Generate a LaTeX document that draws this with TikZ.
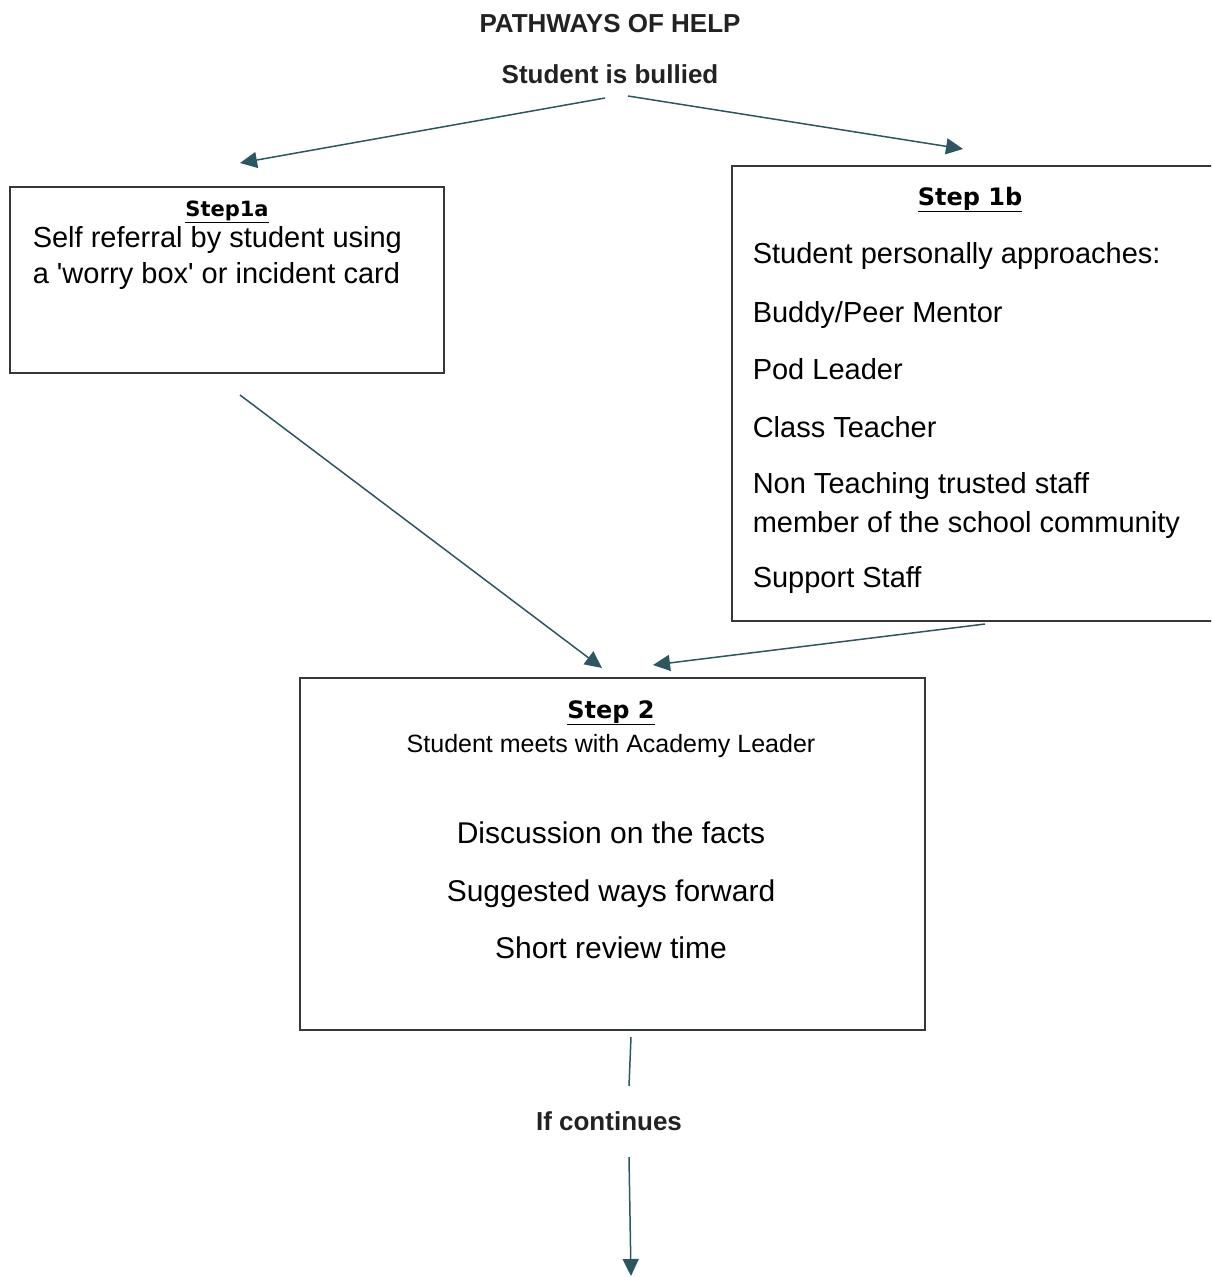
\documentclass[tikz,border=0pt]{standalone}
\usepackage{fontspec}
\setmainfont{Liberation Sans}
\newfontfamily\headfont{DejaVu Sans}
\usetikzlibrary{arrows.meta, positioning}
\definecolor{linkteal}{RGB}{44,86,96}
\definecolor{boxgray}{RGB}{55,55,55}
\definecolor{titlegray}{RGB}{34,34,34}

\begin{document}
\begin{tikzpicture}[x = 1pt, y = -1pt, % one unit = one pixel, downwards
                > = {Triangle[length=17pt, width=16pt]}, % arrow head style
                line width = 1.5pt
            ]

            \tikzstyle{box}=[draw = boxgray, line width = 2pt, rectangle,
            inner sep = 0pt]
            \tikzstyle{link}=[->, draw = linkteal, fill = linkteal]
            \tikzstyle{caption}=[inner sep = 0pt, text = titlegray,
            font = \bfseries\fontsize{26}{30}\selectfont]
            \tikzstyle{heading}=[inner sep = 0pt, anchor = base,
            font = \headfont\bfseries\fontsize{23}{28}\selectfont]
            \tikzstyle{line}=[inner sep = 0pt, anchor = base west,
            font = \fontsize{29}{35}\selectfont]
            \tikzstyle{cline}=[line, anchor = base,
            font = \fontsize{30}{36}\selectfont]

            \useasboundingbox (0,0) rectangle (1211,1277);
            \clip (0,0) rectangle (1211,1277);

            % top captions
            \node (title) [caption, anchor = base] at (610,32) {PATHWAYS OF HELP};
            \node (bullied) [caption, anchor = base] at (610,83) {Student is bullied};

            % the three boxes
            \node (s1a) [box, minimum width = 434pt, minimum height = 186pt]
            at (227,280) {};
            \node (s1b) [box, minimum width = 486pt, minimum height = 455pt]
            at (975,393.5) {};
            \node (s2) [box, minimum width = 625pt, minimum height = 352pt]
            at (612.5,854) {};

            % step 1a
            \node (h1a) [heading, font = \headfont\bfseries\fontsize{21}{25}\selectfont]
            at (227,216) {\underline{Step1a}};
            \node (a1) [line] at (32,247) {Self referral by student using};
            \node (a2) [line] at (32,283) {a \textquotesingle worry box\textquotesingle{} or incident card};

            % step 1b
            \node (h1b) [heading, font = \headfont\bfseries\fontsize{24}{28}\selectfont]
            at (970,205) {\underline{Step 1b}};
            \foreach \y/\t [count=\i] in {263/{Student personally approaches:},
                322/{Buddy/Peer Mentor}, 379/{Pod Leader}, 437/{Class Teacher},
                493/{Non Teaching trusted staff},
                532/{member of the school community}, 587/{Support Staff}}
                \node (b\i) [line] at (752,\y) {\t};

            % step 2
            \node (h2) [heading, font = \headfont\bfseries\fontsize{24}{28}\selectfont]
            at (611,718) {\underline{Step 2}};
            \node (c0) [cline, font = \fontsize{25}{30}\selectfont]
            at (611,752) {Student meets with Academy Leader};
            \node (c1) [cline] at (611,843) {Discussion on the facts};
            \node (c2) [cline] at (611,901) {Suggested ways forward};
            \node (c3) [cline] at (611,958) {Short review time};

            \node (cont) [caption, anchor = base] at (609,1130) {If continues};

            % connector ends
            \coordinate (bl) at (605,98); \coordinate (br) at (628,96);
            \coordinate (t1a) at (240,163); \coordinate (t1b) at (963,149);
            \coordinate (f1a) at (240,395); \coordinate (f1b) at (985,624);
            \coordinate (t2l) at (602,668); \coordinate (t2r) at (653,665);
            \coordinate (f2) at (631,1037); \coordinate (u2) at (629,1086);
            \coordinate (dc) at (629,1157); \coordinate (end) at (631,1276);

            \draw[link] (bl) -- (t1a); \draw[link] (br) -- (t1b);
            \draw[link] (f1a) -- (t2l); \draw[link] (f1b) -- (t2r);
            \draw[linkteal] (f2) -- (u2);
            \draw[link] (dc) -- (end);
        \end{tikzpicture}
\end{document}
